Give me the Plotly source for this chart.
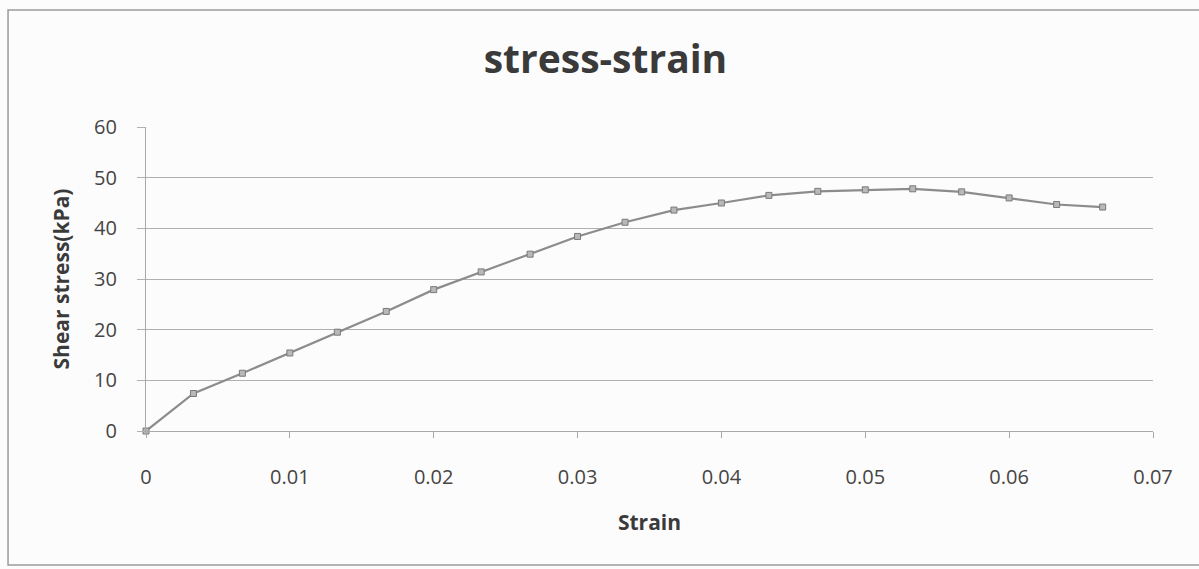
import plotly.graph_objects as go

strain = [0, 0.0033, 0.0067, 0.01, 0.0133, 0.0167, 0.02, 0.0233, 0.0267, 0.03,
          0.0333, 0.0367, 0.04, 0.0433, 0.0467, 0.05, 0.0533, 0.0567, 0.06,
          0.0633, 0.0665]
shear_stress = [0, 7.4, 11.4, 15.4, 19.5, 23.6, 27.9, 31.4, 34.9, 38.4,
                41.2, 43.6, 45.0, 46.5, 47.3, 47.6, 47.8, 47.2, 46.0,
                44.7, 44.2]
x_ticks = [0, 0.01, 0.02, 0.03, 0.04, 0.05, 0.06, 0.07]
x_tick_text = ["0", "0.01", "0.02", "0.03", "0.04", "0.05", "0.06", "0.07"]
y_ticks = [0, 10, 20, 30, 40, 50, 60]

FONT = "Open Sans"
fig = go.Figure()
fig.add_trace(go.Scatter(
    x=strain, y=shear_stress, mode="lines+markers",
    line=dict(color="#8c8c8c", width=2.2),
    marker=dict(symbol="square", size=6, color="#b8b8b8",
                line=dict(color="#7a7a7a", width=1)),
    showlegend=False, cliponaxis=False,
))

fig.update_layout(
    width=1199, height=569,
    margin=dict(l=146, r=46, t=127, b=138),
    paper_bgcolor="#fcfcfc", plot_bgcolor="#fcfcfc",
    title=dict(text="<b>stress-strain</b>", x=0.505, xanchor="center",
               y=0.895, yanchor="middle",
               font=dict(family=FONT, size=39, color="#3a3a3a")),
    xaxis=dict(range=[0, 0.07], tickvals=x_ticks, ticktext=x_tick_text,
               showgrid=False, zeroline=False, showline=True,
               linecolor="#a8a8a8", linewidth=1.2,
               ticks="outside", ticklen=6, tickcolor="#a8a8a8",
               ticklabelstandoff=22,
               tickfont=dict(family=FONT, size=20, color="#454545"),
               title=dict(text="<b>Strain</b>", standoff=26,
                          font=dict(family=FONT, size=21, color="#3a3a3a"))),
    yaxis=dict(range=[0, 60], tickvals=y_ticks,
               showgrid=True, gridcolor="#b0b0b0", gridwidth=1.2,
               zeroline=False, showline=True,
               linecolor="#a8a8a8", linewidth=1.2,
               ticks="outside", ticklen=8, tickcolor="#b0b0b0",
               ticklabelstandoff=16,
               tickfont=dict(family=FONT, size=20, color="#454545"),
               title=dict(text="<b>Shear stress(kPa)</b>", standoff=18,
                          font=dict(family=FONT, size=21, color="#3a3a3a"))),
    shapes=[dict(type="rect", xref="paper", yref="paper",
                 x0=-0.137, x1=1.06, y0=-0.441, y1=1.385,
                 line=dict(color="#9a9a9a", width=1.5))],
)

fig.write_html("out.html")
